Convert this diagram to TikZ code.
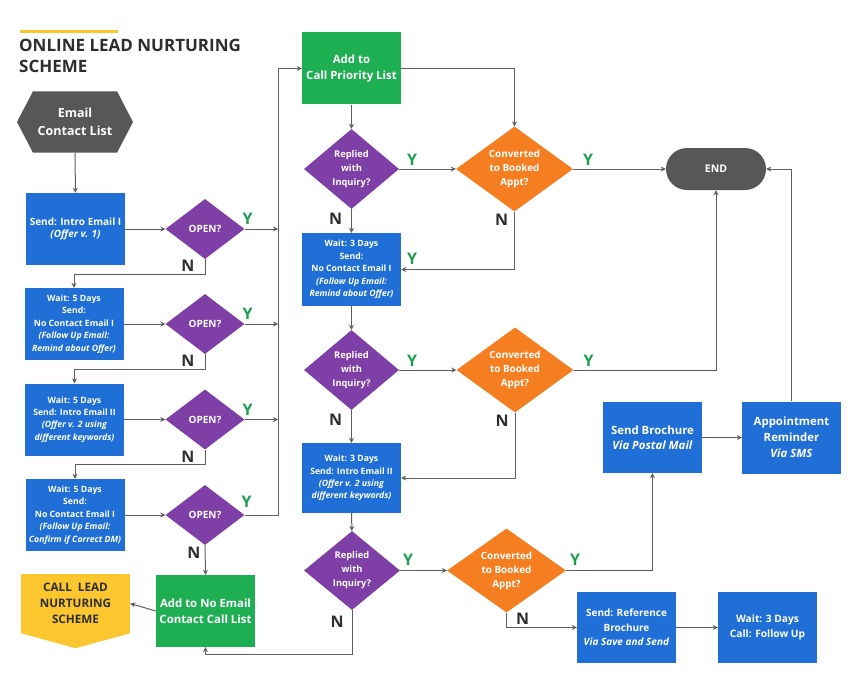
\documentclass[tikz,border=0pt]{standalone}
\usepackage{fontspec}
\setmainfont{Open Sans}
\usepackage{xcolor}
\usepackage{tikz}
\usetikzlibrary{arrows.meta,positioning,shapes.geometric,shapes.symbols}

\definecolor{mailblue}{HTML}{1F6FD6}
\definecolor{listgreen}{HTML}{1DAF52}
\definecolor{askpurple}{HTML}{7E40A6}
\definecolor{bookorange}{HTML}{F57E20}
\definecolor{leadyellow}{HTML}{FBC62E}
\definecolor{startgray}{HTML}{575757}
\definecolor{linegray}{HTML}{5E5E5E}
\definecolor{yesgreen}{HTML}{1E9E4F}
\definecolor{nodark}{HTML}{2E2E2E}

\begin{document}
\begin{tikzpicture}[x=1pt,y=-1pt,
      blk/.style={text=white,align=center,inner sep=1pt,
                  minimum width=99pt,minimum height=72pt},
      mailbox/.style={blk,fill=mailblue,
                  font=\bfseries\fontsize{8.7}{12.4}\selectfont},
      listbox/.style={blk,fill=listgreen,
                  font=\bfseries\fontsize{11.4}{15.8}\selectfont},
      hexa/.style={signal,signal to=west and east,signal pointer angle=125,
                  fill=startgray,text=white,align=center,inner sep=0pt,
                  minimum width=116pt,minimum height=61pt,
                  font=\bfseries\fontsize{12.5}{18}\selectfont},
      openq/.style={diamond,fill=askpurple,text=white,inner sep=0pt,
                  minimum width=79pt,minimum height=60pt,
                  font=\bfseries\fontsize{10}{12}\selectfont},
      ask/.style={diamond,fill=askpurple,text=white,align=center,
                  inner sep=0pt,aspect=1.19,minimum width=95pt,
                  minimum height=80pt,
                  font=\bfseries\fontsize{9.3}{14}\selectfont},
      booked/.style={diamond,fill=bookorange,text=white,align=center,
                  inner sep=0pt,aspect=1.38,minimum width=117pt,
                  minimum height=85pt,
                  font=\bfseries\fontsize{9.9}{14}\selectfont},
      arr/.style={-{Stealth[length=5pt,width=5pt]},line width=1pt,linegray},
      ylab/.style={font=\bfseries\fontsize{16}{16}\selectfont,text=yesgreen},
      nlab/.style={font=\bfseries\fontsize{16}{16}\selectfont,text=nodark},
  ]
  \path[use as bounding box,fill=white] (0,0) rectangle (864,682);

  %--- Title ---
  \draw[leadyellow,line width=3pt] (20,31.5) -- (118,31.5);
  \node[anchor=north west,inner sep=0pt,align=left,text=nodark,
        font=\bfseries\fontsize{17}{21}\selectfont] (title) at (19,39)
        {ONLINE LEAD NURTURING\\SCHEME};

  %--- Email column (left) ---
  \node[hexa] (email) at (75,122) {Email\\Contact List};
  \node[mailbox,font=\bfseries\fontsize{10}{12.3}\selectfont] (sendA) at (75.5,229)
        {Send: Intro Email I\\\textit{(Offer v. 1)}};
  \node[mailbox] (waitB) at (74,324)
        {Wait: 5 Days\\Send:\\No Contact Email I\\\textit{(Follow Up Email:}\\\textit{Remind about Offer)}};
  \node[mailbox] (waitC) at (74.5,419.5)
        {Wait: 5 Days\\Send: Intro Email II\\\textit{(Offer v. 2 using}\\\textit{different keywords)}};
  \node[mailbox] (waitD) at (75,515)
        {Wait: 5 Days\\Send:\\No Contact Email I\\\textit{(Follow Up Email:}\\\textit{Confirm if Correct DM)}};

  \node[openq] (openA) at (205,229) {OPEN?};
  \node[openq] (openB) at (205,324) {OPEN?};
  \node[openq] (openC) at (205,419.5) {OPEN?};
  \node[openq] (openD) at (205,515) {OPEN?};

  \node[listbox] (noEmail) at (205.5,611) {Add to No Email\\Contact Call List};
  \node[blk,fill=leadyellow,text=nodark,minimum width=109pt,minimum height=59pt,
        font=\bfseries\fontsize{11.7}{16}\selectfont] (callLead) at (75.5,603.5)
        {CALL\ \ LEAD\\NURTURING\\SCHEME};
  \fill[leadyellow] (callLead.south west) -- (callLead.south east)
        -- ([yshift=-15pt]callLead.south) -- cycle;

  \coordinate (bus) at (278,68.5);

  \draw[arr] (email) -- (sendA);
  \foreach \b/\d in {sendA/openA,waitB/openB,waitC/openC,waitD/openD}
    \draw[arr] (\b.east) -- (\d.west);
  \foreach \d/\w in {openA/waitB,openB/waitC,openC/waitD}
    \draw[arr] (\d.south) -- ++(0,15) -| (\w.north);
  \foreach \d in {openA,openB,openC}
    \draw[arr] (\d.east) -- (\d.east -| bus);
  \draw[arr] (openD.south) -- (noEmail.north);
  \draw[arr] (noEmail.west) -- (callLead.east);

  \foreach \d in {openA,openB,openC}{
    \node[ylab] at ([xshift=3pt,yshift=10pt]\d.east) {Y};
    \node[nlab] at ([xshift=-17pt,yshift=-7pt]\d.south) {N};
  }
  \node[ylab] at ([xshift=2pt,yshift=13pt]openD.east) {Y};
  \node[nlab] at ([xshift=-11pt,yshift=-8pt]openD.south) {N};

  %--- Call column (middle) ---
  \node[listbox] (addPriority) at (351.5,68.5) {Add to\\Call Priority List};
  \node[ask] (replA) at (351.5,169) {Replied\\with\\Inquiry?};
  \node[booked] (convA) at (514.5,169) {Converted\\to Booked\\Appt?};
  \node[mailbox,minimum height=73pt] (waitE) at (351.5,269.5)
        {Wait: 3 Days\\Send:\\No Contact Email I\\\textit{(Follow Up Email:}\\\textit{Remind about Offer)}};
  \node[ask] (replB) at (351.5,370) {Replied\\with\\Inquiry?};
  \node[booked] (convB) at (515,370) {Converted\\to Booked\\Appt?};
  \node[mailbox,minimum height=70pt] (waitF) at (351.5,478)
        {Wait: 3 Days\\Send: Intro Email II\\\textit{(Offer v. 2 using}\\\textit{different keywords)}};
  \node[ask,minimum width=96pt,minimum height=79pt] (replC) at (352,570.5) {Replied\\with\\Inquiry?};
  \node[booked,minimum width=119pt,minimum height=84pt] (convC) at (506.5,570.5) {Converted\\to Booked\\Appt?};

  %--- Outcomes (right) ---
  \node[startgray,fill=startgray,text=white,rounded corners=21pt,
        minimum width=100pt,minimum height=42pt,
        font=\bfseries\fontsize{10.5}{12}\selectfont] (endNode) at (716,169) {END};
  \node[mailbox,minimum height=71pt,font=\bfseries\fontsize{11.4}{15}\selectfont]
        (sendBrochure) at (652.5,437.5) {Send Brochure\\\textit{Via Postal Mail}};
  \node[mailbox,font=\bfseries\fontsize{11.4}{16}\selectfont]
        (apptRem) at (791.5,437.5) {Appointment\\Reminder\\\textit{Via SMS}};
  \node[mailbox,minimum height=71pt,font=\bfseries\fontsize{10}{14.7}\selectfont]
        (refBrochure) at (626.5,627.5) {Send: Reference\\Brochure\\\textit{Via Save and Send}};
  \node[mailbox,minimum height=71pt,font=\bfseries\fontsize{10.2}{15}\selectfont]
        (waitCall) at (767.5,627.5) {Wait: 3 Days\\Call: Follow Up};

  % OPEN? yes -> priority list
  \draw[arr] (openD.east) -| (bus) -- (addPriority.west);
  \draw[arr] (addPriority.east) -| (convA.north);
  \draw[arr] (addPriority) -- (replA);

  % replied / converted chain
  \foreach \r/\c in {replA/convA,replB/convB,replC/convC}
    \draw[arr] (\r.east) -- (\c.west);
  \draw[arr] (replA) -- (waitE);
  \draw[arr] (waitE) -- (replB);
  \draw[arr] (replB) -- (waitF);
  \draw[arr] (waitF) -- (replC);
  \draw[arr] (convA.south) |- (waitE.east);
  \draw[arr] (convB.south) |- (waitF.east);
  \draw[arr] (replC.south) -- ++(0,44) -| (noEmail.south);

  % converted -> end
  \draw[arr] (convA.east) -- (endNode.west);
  \draw[arr] (convB.east) -| (endNode.south);
  \draw[arr] (convC.east) -| (sendBrochure.south);
  \draw[arr] (sendBrochure) -- (apptRem);
  \draw[arr] (apptRem.north) |- (endNode.east);
  \draw[arr] (convC.south) |- (refBrochure.west);
  \draw[arr] (refBrochure) -- (waitCall);

  \foreach \r in {replA,replB}{
    \node[ylab] at ([xshift=13pt,yshift=9pt]\r.east) {Y};
    \node[nlab] at ([xshift=-16pt,yshift=-10pt]\r.south) {N};
  }
  \foreach \c in {convA,convB}{
    \node[ylab] at ([xshift=15pt,yshift=9pt]\c.east) {Y};
    \node[nlab] at ([xshift=-13pt,yshift=-8pt]\c.south) {N};
  }
  \node[ylab] at ([xshift=11pt,yshift=11pt]waitE.east) {Y};
  \node[ylab] at ([xshift=8pt,yshift=11pt]replC.east) {Y};
  \node[nlab] at ([xshift=-15pt,yshift=-12pt]replC.south) {N};
  \node[ylab] at ([xshift=9pt,yshift=11pt]convC.east) {Y};
  \node[nlab] at ([xshift=16pt,yshift=-6pt]convC.south) {N};
\end{tikzpicture}
\end{document}
